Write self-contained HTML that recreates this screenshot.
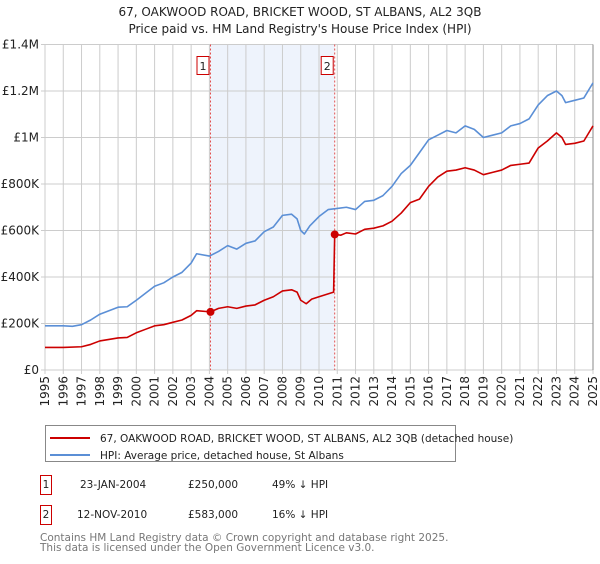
<!DOCTYPE html>
<html><head><meta charset="utf-8"><style>
body{margin:0;background:#fff;font-family:"DejaVu Sans","Liberation Sans",sans-serif;}
svg text{font-family:"DejaVu Sans","Liberation Sans",sans-serif;}
</style></head><body>
<svg id="c" width="600" height="560" xmlns="http://www.w3.org/2000/svg">
<text x="300" y="16" text-anchor="middle" font-size="12" fill="#222">67, OAKWOOD ROAD, BRICKET WOOD, ST ALBANS, AL2 3QB</text>
<text x="300" y="33" text-anchor="middle" font-size="12" fill="#222">Price paid vs. HM Land Registry's House Price Index (HPI)</text>
<g id="plot"></g>
<g>
<rect x="45.5" y="425.5" width="410" height="36" fill="#fff" stroke="#888"/>
<line x1="50" y1="438" x2="90" y2="438" stroke="#cc0000" stroke-width="2"/>
<text x="100" y="442" font-size="10.5" fill="#222">67, OAKWOOD ROAD, BRICKET WOOD, ST ALBANS, AL2 3QB (detached house)</text>
<line x1="50" y1="455" x2="90" y2="455" stroke="#5b8fd6" stroke-width="2"/>
<text x="100" y="459" font-size="10.5" fill="#222">HPI: Average price, detached house, St Albans</text>
</g>
<g font-size="10.5" fill="#222">
<rect x="40.5" y="475.5" width="11" height="19" fill="none" stroke="#cc0000"/>
<text x="46" y="488" text-anchor="middle">1</text>
<text x="80" y="488">23-JAN-2004</text><text x="188" y="488">£250,000</text><text x="272" y="488">49% ↓ HPI</text>
<rect x="40.5" y="505.5" width="11" height="19" fill="none" stroke="#cc0000"/>
<text x="46" y="518" text-anchor="middle">2</text>
<text x="77" y="518">12-NOV-2010</text><text x="188" y="518">£583,000</text><text x="272" y="518">16% ↓ HPI</text>
</g>
<text x="40" y="541" font-size="10.5" fill="#777">Contains HM Land Registry data © Crown copyright and database right 2025.</text>
<text x="40" y="551" font-size="10.5" fill="#777">This data is licensed under the Open Government Licence v3.0.</text>
</svg>
<script>
const hpiYears=[1995,1996,1996.5,1997,1997.5,1998,1998.5,1999,1999.5,2000,2000.5,2001,2001.5,2002,2002.5,2003,2003.3,2004,2004.5,2005,2005.5,2006,2006.5,2007,2007.5,2008,2008.5,2008.8,2009,2009.2,2009.5,2010,2010.5,2011,2011.5,2012,2012.5,2013,2013.5,2014,2014.5,2015,2015.5,2016,2016.5,2017,2017.5,2018,2018.5,2019,2019.5,2020,2020.5,2021,2021.5,2022,2022.5,2023,2023.3,2023.5,2024,2024.5,2025];
const hpiValues=[190,190,188,195,215,240,255,270,272,300,330,360,375,400,420,460,500,490,510,535,520,545,555,595,615,665,670,650,600,585,620,660,690,695,700,690,725,730,750,790,845,880,935,990,1010,1030,1020,1050,1035,1000,1010,1020,1050,1060,1080,1140,1180,1200,1180,1150,1160,1170,1235];
const ppYears=[1995,1996,1997,1997.5,1998,1999,1999.5,2000,2000.5,2001,2001.5,2002,2002.5,2003,2003.3,2004.06,2004.5,2005,2005.5,2006,2006.5,2007,2007.5,2008,2008.5,2008.8,2009,2009.3,2009.6,2010,2010.8,2010.86,2011.2,2011.5,2012,2012.5,2013,2013.5,2014,2014.5,2015,2015.5,2016,2016.5,2017,2017.5,2018,2018.5,2019,2019.5,2020,2020.5,2021,2021.5,2022,2022.5,2023,2023.3,2023.5,2024,2024.5,2025];
const ppValues=[97,97,100,110,125,138,140,160,175,190,195,205,215,235,255,250,265,272,265,275,280,300,315,340,345,335,300,285,305,315,335,583,580,590,585,605,610,620,640,675,720,735,790,830,855,860,870,860,840,850,860,880,885,890,955,985,1020,1000,970,975,985,1050];
const sales=[{n:"1",t:2004.06,v:250},{n:"2",t:2010.86,v:583}];
const yTicks=[0,200,400,600,800,1000,1200,1400];
const yTickLabels=["£0","£200K","£400K","£600K","£800K","£1M","£1.2M","£1.4M"];
const xTicks=[1995,1996,1997,1998,1999,2000,2001,2002,2003,2004,2005,2006,2007,2008,2009,2010,2011,2012,2013,2014,2015,2016,2017,2018,2019,2020,2021,2022,2023,2024,2025];

const L=45,R=593,T=44.5,B=370;
const xs=t=>L+(t-1995)/30*(R-L);
const ys=v=>B-v/1400*(B-T);
const NS="http://www.w3.org/2000/svg";
const g=document.getElementById('plot');
function mk(tag,a,p){const e=document.createElementNS(NS,tag);for(const k in a)e.setAttribute(k,a[k]);(p||g).appendChild(e);return e;}

const sh=mk('rect',{x:xs(sales[0].t),y:T,width:xs(sales[1].t)-xs(sales[0].t),height:B-T,fill:'#eef3fc'});


xTicks.forEach(t=>{
  const l=mk('line',{x1:xs(t),y1:T,x2:xs(t),y2:B+4,stroke:'#ccc','stroke-width':1});
  
  
  const tx=mk('text',{x:0,y:0,'font-size':12,fill:'#222','text-anchor':'end',transform:`translate(${xs(t)+4},${B+6}) rotate(-90)`});
  tx.textContent=t;
  
  
});
yTicks.forEach((v,i)=>{
  const l=mk('line',{x1:L-4,y1:ys(v),x2:R,y2:ys(v),stroke:'#ccc','stroke-width':1});
  
  
  const tx=mk('text',{x:L-6,y:ys(v)+4,'font-size':12,fill:'#222','text-anchor':'end'});
  tx.textContent=yTickLabels[i];
  
  
});
const ax=mk('line',{x1:R,y1:T,x2:R,y2:B,stroke:'#888'});


sales.forEach(s=>{
  const l=mk('line',{x1:xs(s.t),y1:T,x2:xs(s.t),y2:B,stroke:'#e05050','stroke-dasharray':'2,2','stroke-width':1});
  
  
  const r=mk('rect',{x:xs(s.t)-13.5,y:56.5,width:12,height:18,fill:'#fff',stroke:'#cc0000'});
  
  
  const tx=mk('text',{x:xs(s.t)-7.5,y:70,'font-size':11,fill:'#222','text-anchor':'middle'});
  tx.textContent=s.n;
  
  
});
function line(X,Y,col,name){
  const p=mk('polyline',{points:X.map((t,i)=>xs(t)+','+ys(Y[i])).join(' '),fill:'none',stroke:col,'stroke-width':1.6,'stroke-linejoin':'round'});
  
  
}
line(hpiYears,hpiValues,'#5b8fd6','hpi-line');
line(ppYears,ppValues,'#cc0000','price-paid-line');
sales.forEach(s=>{
  const c=mk('circle',{cx:xs(s.t),cy:ys(s.v),r:4,fill:'#cc0000'});
  
  
});
</script>
</body></html>
